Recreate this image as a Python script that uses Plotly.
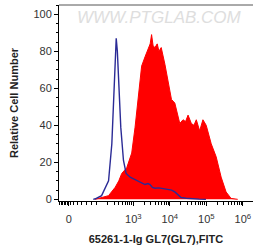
import plotly.graph_objects as go
import numpy as np

# Display coordinate on the x axis: decade position (log10 of FITC intensity)
# Isotype control (blue line)
ctrl_x = [1.90, 1.956, 2.128, 2.319, 2.409, 2.455, 2.50, 2.529, 2.56, 2.591, 2.654, 2.728, 2.801,
          2.910, 3.02, 3.136, 3.22, 3.319, 3.40, 3.455, 3.52, 3.591, 3.70, 3.82, 3.954,
          4.05, 4.136, 4.22, 4.308, 4.45, 4.580, 4.80, 4.989]
ctrl_y = [0.0, 0.3, 2.0, 10.0, 30.0, 54.0, 78.0, 87.0, 80.0, 68.0, 39.0, 21.0, 14.0,
          12.0, 11.0, 10.0, 9.0, 8.0, 8.5, 8.0, 6.5, 6.0, 6.2, 5.8, 5.5,
          5.0, 4.0, 2.5, 1.0, 0.6, 0.3, 0.1, 0.0]

# GL7 stained sample (red filled)
smp_x = [1.95, 2.046, 2.20, 2.319, 2.42, 2.501, 2.60, 2.681, 2.817, 2.954, 3.046, 3.136, 3.226,
         3.319, 3.409, 3.46, 3.499, 3.54, 3.591, 3.654, 3.70, 3.763, 3.864, 3.954, 4.044,
         4.136, 4.20, 4.272, 4.362, 4.43, 4.499, 4.589, 4.66, 4.725, 4.817, 4.907, 4.997,
         5.134, 5.270, 5.406, 5.542, 5.678, 5.861]
smp_y = [0.0, 0.5, 1.2, 2.0, 4.5, 6.5, 10.0, 14.0, 17.0, 25.0, 39.0, 55.0, 72.0,
         77.0, 82.0, 84.0, 89.0, 83.0, 82.0, 84.0, 80.0, 82.0, 73.0, 64.0, 54.0,
         52.0, 47.0, 41.0, 43.0, 42.0, 45.5, 41.0, 40.0, 43.0, 37.0, 43.0, 40.0,
         30.0, 23.0, 12.0, 4.0, 0.5, 0.0]

x_tickvals = [1.23, 3, 4, 5, 6]
x_ticktext = ["0", "10<sup>3</sup>", "10<sup>4</sup>", "10<sup>5</sup>", "10<sup>6</sup>"]
y_tickvals = [0, 20, 40, 60, 80, 100]

minor_x = []
for d in [2, 3, 4, 5]:
    for k in range(2, 10):
        v = d + np.log10(k)
        if v > 2.1:
            minor_x.append(v)
minor_x += [0.98, 1.02, 1.06, 1.10, 1.14, 1.18, 1.28, 1.36, 1.46, 1.58, 1.72, 1.86, 2.0]

fig = go.Figure()
fig.add_trace(go.Scatter(x=smp_x, y=smp_y, mode="lines", fill="tozeroy",
                         fillcolor="#ff0000", line=dict(color="#ff0000", width=1),
                         hoverinfo="skip", showlegend=False))
fig.add_trace(go.Scatter(x=ctrl_x, y=ctrl_y, mode="lines",
                         line=dict(color="#2b2b96", width=1.4),
                         hoverinfo="skip", showlegend=False))

fig.add_annotation(text="WWW.PTGLAB.COM", xref="paper", yref="paper", x=0.52, y=0.995,
                   xanchor="center", yanchor="top", showarrow=False,
                   font=dict(family="Liberation Sans, Arial", size=17, color="#dedede", style="italic"))

fig.update_layout(
    width=254, height=249,
    margin=dict(l=59, r=1, t=5, b=48),
    paper_bgcolor="white", plot_bgcolor="white",
    font=dict(family="Liberation Sans, Arial", color="#333333"),
    xaxis=dict(range=[0.96, 6.28], tickmode="array", tickvals=x_tickvals, ticktext=x_ticktext,
               ticks="outside", ticklen=4, tickwidth=1.2, tickcolor="#000",
               showline=True, linecolor="#000", linewidth=1, mirror=False,
               showgrid=False, zeroline=False, tickfont=dict(size=11, color="#333"),
               ticklabeloverflow="allow", automargin=False, ticklabelstandoff=4,
               minor=dict(tickmode="array", tickvals=minor_x, ticks="outside", ticklen=2.5,
                          tickcolor="#000", tickwidth=1),
               title=dict(text="<b>65261-1-Ig GL7(GL7),FITC</b>", font=dict(size=11, color="#222"),
                          standoff=11)),
    yaxis=dict(range=[-0.9, 105], tickmode="array", tickvals=y_tickvals,
               ticks="outside", ticklen=4, tickwidth=1, tickcolor="#000",
               showline=True, linecolor="#000", linewidth=1,
               showgrid=False, zeroline=False, tickfont=dict(size=11, color="#333"),
               minor=dict(dtick=5, ticks="outside", ticklen=2.5, tickcolor="#000"),
               title=dict(text="<b>Relative Cell Number</b>", font=dict(size=11, color="#222"),
                          standoff=12)),
)
fig.add_shape(type="line", xref="paper", yref="paper", x0=0, x1=1, y0=1, y1=1,
              line=dict(color="#555555", width=1))

fig.write_html("out.html", config={"displayModeBar": False},
               post_script="document.body.style.margin='0';document.body.style.overflow='hidden';")
